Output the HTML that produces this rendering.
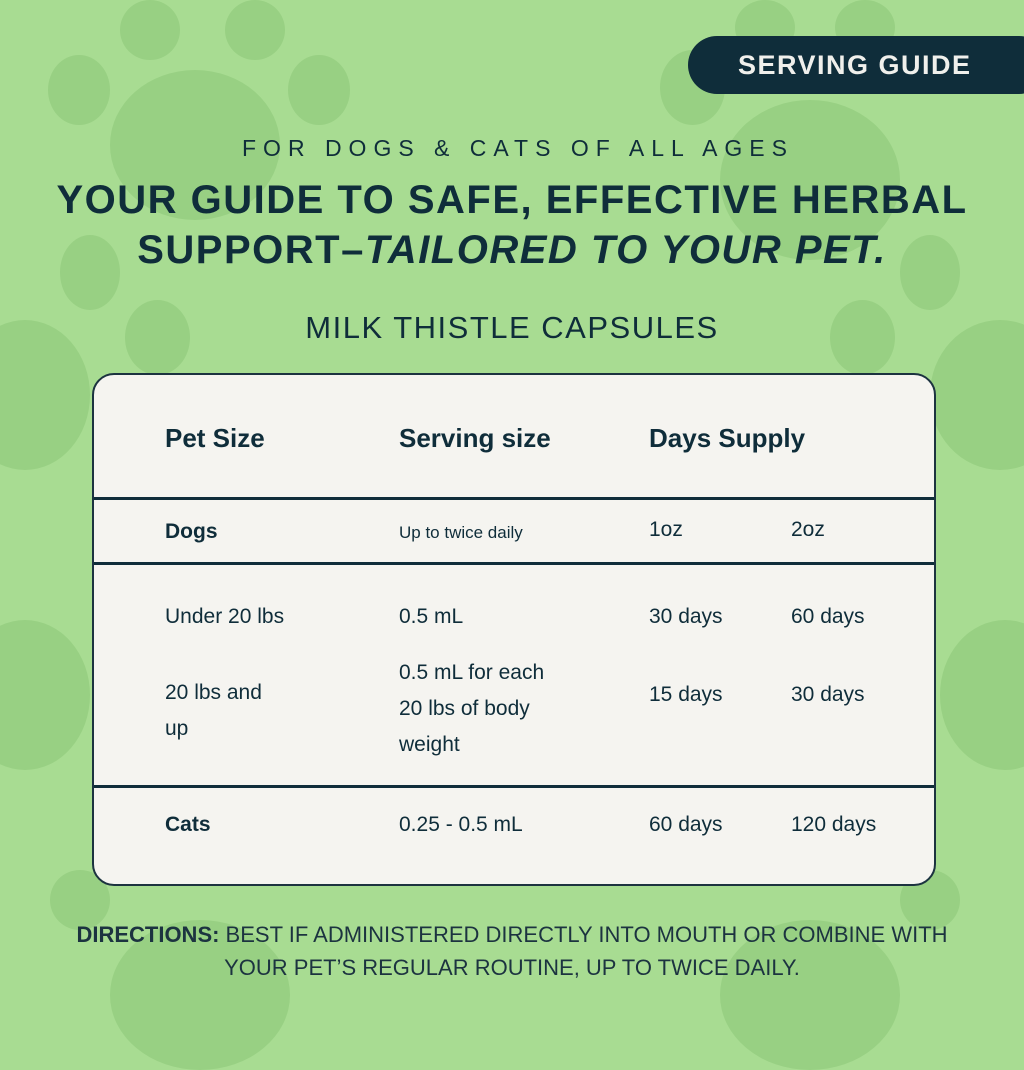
<!DOCTYPE html>
<html><head><style>
body{margin:0;width:1024px;height:1024px;overflow:hidden;background:#a8dc92;font-family:"Liberation Sans",sans-serif;color:#0f2d3a;position:relative}
.p{position:absolute;background:#98d083;border-radius:50%}
.t{position:absolute;white-space:nowrap}
.card{position:absolute;left:92px;top:373px;width:840px;height:509px;background:#f5f4f0;border:2px solid #1c3340;border-radius:22px;overflow:hidden}
.ln{position:absolute;left:0;width:100%;height:3px;background:#0f2d3a}
.c{position:absolute;font-size:21px;white-space:nowrap}
.b{font-weight:bold}
</style></head><body>
<div class="p" style="left:120px;top:0;width:60px;height:60px"></div>
<div class="p" style="left:225px;top:0;width:60px;height:60px"></div>
<div class="p" style="left:48px;top:55px;width:62px;height:70px"></div>
<div class="p" style="left:288px;top:55px;width:62px;height:70px"></div>
<div class="p" style="left:110px;top:70px;width:170px;height:150px"></div>
<div class="p" style="left:735px;top:0;width:60px;height:55px"></div>
<div class="p" style="left:835px;top:0;width:60px;height:55px"></div>
<div class="p" style="left:660px;top:50px;width:65px;height:75px"></div>
<div class="p" style="left:720px;top:100px;width:180px;height:160px"></div>
<div class="p" style="left:-40px;top:320px;width:130px;height:150px"></div>
<div class="p" style="left:60px;top:235px;width:60px;height:75px"></div>
<div class="p" style="left:125px;top:300px;width:65px;height:75px"></div>
<div class="p" style="left:930px;top:320px;width:140px;height:150px"></div>
<div class="p" style="left:900px;top:235px;width:60px;height:75px"></div>
<div class="p" style="left:830px;top:300px;width:65px;height:75px"></div>
<div class="p" style="left:-40px;top:620px;width:130px;height:150px"></div>
<div class="p" style="left:940px;top:620px;width:130px;height:150px"></div>
<div class="p" style="left:110px;top:920px;width:180px;height:150px"></div>
<div class="p" style="left:720px;top:920px;width:180px;height:150px"></div>
<div class="p" style="left:50px;top:870px;width:60px;height:60px"></div>
<div class="p" style="left:900px;top:870px;width:60px;height:60px"></div>

<div style="position:absolute;left:688px;top:36px;width:360px;height:58px;background:#0f2d3a;border-radius:29px"></div>
<div class="t b" style="left:738px;top:50px;font-size:27px;color:#f0f0ec;letter-spacing:1.5px">SERVING GUIDE</div>

<div class="t" style="left:0;width:1024px;text-align:center;top:135px;font-size:23px;letter-spacing:7px;padding-left:6px">FOR DOGS &amp; CATS OF ALL AGES</div>
<div class="t b" style="left:0;width:1024px;text-align:center;top:178px;font-size:40px;letter-spacing:1.5px">YOUR GUIDE TO SAFE, EFFECTIVE HERBAL</div>
<div class="t b" style="left:0;width:1024px;text-align:center;top:228px;font-size:40px;letter-spacing:1.5px">SUPPORT–<i>TAILORED TO YOUR PET.</i></div>
<div class="t" style="left:0;width:1024px;text-align:center;top:310px;font-size:31px;letter-spacing:1.5px">MILK THISTLE CAPSULES</div>

<div class="card">
<div class="c b" style="left:71px;top:48px;font-size:26px">Pet Size</div>
<div class="c b" style="left:305px;top:48px;font-size:26px">Serving size</div>
<div class="c b" style="left:555px;top:48px;font-size:26px">Days Supply</div>
<div class="ln" style="top:122px"></div>
<div class="c b" style="left:71px;top:145px">Dogs</div>
<div class="c" style="left:305px;top:148px;font-size:17px">Up to twice daily</div>
<div class="c" style="left:555px;top:143px">1oz</div>
<div class="c" style="left:697px;top:143px">2oz</div>
<div class="ln" style="top:187px"></div>
<div class="c" style="left:71px;top:230px">Under 20 lbs</div>
<div class="c" style="left:305px;top:230px">0.5 mL</div>
<div class="c" style="left:555px;top:230px">30 days</div>
<div class="c" style="left:697px;top:230px">60 days</div>
<div class="c" style="left:71px;top:300px;line-height:36px">20 lbs and<br>up</div>
<div class="c" style="left:305px;top:280px;line-height:36px">0.5 mL for each<br>20 lbs of body<br>weight</div>
<div class="c" style="left:555px;top:308px">15 days</div>
<div class="c" style="left:697px;top:308px">30 days</div>
<div class="ln" style="top:410px"></div>
<div class="c b" style="left:71px;top:438px">Cats</div>
<div class="c" style="left:305px;top:438px">0.25 - 0.5 mL</div>
<div class="c" style="left:555px;top:438px">60 days</div>
<div class="c" style="left:697px;top:438px">120 days</div>
</div>

<div class="t" style="left:0;width:1024px;text-align:center;top:918px;font-size:22px;line-height:33px;color:#1c3340"><b>DIRECTIONS:</b> BEST IF ADMINISTERED DIRECTLY INTO MOUTH OR COMBINE WITH<br>YOUR PET’S REGULAR ROUTINE, UP TO TWICE DAILY.</div>
</body></html>
